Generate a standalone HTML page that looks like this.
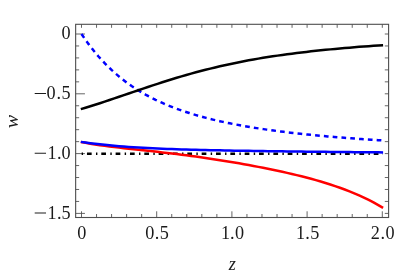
<!DOCTYPE html>
<html><head><meta charset="utf-8"><title>plot</title>
<style>html,body{margin:0;padding:0;background:#fff;}body{width:397px;height:279px;overflow:hidden;font-family:"Liberation Serif",serif;}svg{display:block;will-change:transform;}</style>
</head><body>
<svg width="397" height="279" viewBox="0 0 397 279">
<rect width="397" height="279" fill="#fff"/>
<path d="M81.50,217.5v-6.2M81.50,24.3v3.5M96.54,217.5v-3.5M96.54,24.3v3.5M111.58,217.5v-3.5M111.58,24.3v3.5M126.62,217.5v-3.5M126.62,24.3v3.5M141.66,217.5v-3.5M141.66,24.3v3.5M156.70,217.5v-6.2M156.70,24.3v3.5M171.74,217.5v-3.5M171.74,24.3v3.5M186.78,217.5v-3.5M186.78,24.3v3.5M201.82,217.5v-3.5M201.82,24.3v3.5M216.86,217.5v-3.5M216.86,24.3v3.5M231.90,217.5v-6.2M231.90,24.3v3.5M246.94,217.5v-3.5M246.94,24.3v3.5M261.98,217.5v-3.5M261.98,24.3v3.5M277.02,217.5v-3.5M277.02,24.3v3.5M292.06,217.5v-3.5M292.06,24.3v3.5M307.10,217.5v-6.2M307.10,24.3v3.5M322.14,217.5v-3.5M322.14,24.3v3.5M337.18,217.5v-3.5M337.18,24.3v3.5M352.22,217.5v-3.5M352.22,24.3v3.5M367.26,217.5v-3.5M367.26,24.3v3.5M382.30,217.5v-6.2M382.30,24.3v3.5M75.65,34.00h9.3M388.6,34.00h-3.8M75.65,45.96h3.5M388.6,45.96h-3.8M75.65,57.92h3.5M388.6,57.92h-3.8M75.65,69.88h3.5M388.6,69.88h-3.8M75.65,81.84h3.5M388.6,81.84h-3.8M75.65,93.80h9.3M388.6,93.80h-3.8M75.65,105.76h3.5M388.6,105.76h-3.8M75.65,117.72h3.5M388.6,117.72h-3.8M75.65,129.68h3.5M388.6,129.68h-3.8M75.65,141.64h3.5M388.6,141.64h-3.8M75.65,153.60h9.3M388.6,153.60h-3.8M75.65,165.56h3.5M388.6,165.56h-3.8M75.65,177.52h3.5M388.6,177.52h-3.8M75.65,189.48h3.5M388.6,189.48h-3.8M75.65,201.44h3.5M388.6,201.44h-3.8M75.65,213.40h9.3M388.6,213.40h-3.8" stroke="#555" stroke-width="0.9" fill="none"/>
<path d="M81.5,34.00 84.9,38.94 88.2,43.62 91.6,48.06 95.0,52.27 98.3,56.25 101.7,60.03 105.1,63.60 108.5,66.99 111.8,70.19 115.2,73.24 118.6,76.12 121.9,78.86 125.3,81.46 128.7,83.93 132.0,86.28 135.4,88.51 138.8,90.63 142.2,92.65 145.5,94.58 148.9,96.42 152.3,98.17 155.6,99.84 159.0,101.44 162.4,102.97 165.7,104.43 169.1,105.82 172.5,107.16 175.9,108.44 179.2,109.67 182.6,110.85 186.0,111.98 189.3,113.06 192.7,114.11 196.1,115.11 199.4,116.07 202.8,117.00 206.2,117.90 209.5,118.76 212.9,119.59 216.3,120.39 219.7,121.16 223.0,121.90 226.4,122.62 229.8,123.31 233.1,123.99 236.5,124.63 239.9,125.26 243.2,125.87 246.6,126.46 250.0,127.03 253.4,127.58 256.7,128.11 260.1,128.63 263.5,129.13 266.8,129.62 270.2,130.09 273.6,130.55 276.9,131.00 280.3,131.43 283.7,131.85 287.0,132.26 290.4,132.66 293.8,133.05 297.2,133.43 300.5,133.79 303.9,134.15 307.3,134.50 310.6,134.84 314.0,135.17 317.4,135.49 320.7,135.80 324.1,136.11 327.5,136.41 330.9,136.70 334.2,136.98 337.6,137.26 341.0,137.53 344.3,137.80 347.7,138.06 351.1,138.31 354.4,138.56 357.8,138.80 361.2,139.03 364.6,139.26 367.9,139.49 371.3,139.71 374.7,139.93 378.0,140.14 381.4,140.34" stroke="#0000ff" stroke-width="2.5" fill="none" stroke-dasharray="4.7 4.12" stroke-linejoin="round"/>
<path d="M80.8,109.13 85.5,107.73 90.3,106.28 95.1,104.78 99.9,103.24 104.7,101.66 109.5,100.06 114.3,98.44 119.1,96.80 123.9,95.16 128.7,93.51 133.5,91.87 138.3,90.23 143.1,88.60 147.9,86.99 152.7,85.40 157.5,83.83 162.3,82.28 167.1,80.76 171.9,79.27 176.7,77.81 181.5,76.39 186.3,74.99 191.1,73.64 195.9,72.32 200.7,71.04 205.5,69.80 210.3,68.60 215.1,67.43 219.9,66.30 224.7,65.22 229.5,64.17 234.3,63.16 239.1,62.18 243.9,61.24 248.7,60.34 253.5,59.47 258.3,58.64 263.1,57.84 267.9,57.07 272.7,56.33 277.5,55.62 282.3,54.93 287.1,54.28 291.9,53.65 296.7,53.04 301.5,52.46 306.3,51.89 311.1,51.35 315.9,50.83 320.7,50.33 325.5,49.84 330.3,49.37 335.1,48.91 339.9,48.48 344.7,48.05 349.5,47.64 354.3,47.24 359.1,46.86 363.9,46.49 368.7,46.14 373.5,45.80 378.3,45.48 383.1,45.17" stroke="#000" stroke-width="2.5" fill="none" stroke-linejoin="round"/>
<path d="M81.65,153.75H383" stroke="#000" stroke-width="2.5" fill="none" stroke-dasharray="1.4 3.9 4.7 4.34"/>
<path d="M80.8,141.93 85.5,142.83 90.3,143.66 95.1,144.43 99.9,145.14 104.7,145.81 109.5,146.44 114.3,147.04 119.1,147.61 123.9,148.17 128.7,148.70 133.5,149.23 138.3,149.76 143.1,150.28 147.9,150.80 152.7,151.33 157.5,151.86 162.3,152.40 167.1,152.96 171.9,153.53 176.7,154.11 181.5,154.71 186.3,155.32 191.1,155.95 195.9,156.60 200.7,157.27 205.5,157.96 210.3,158.67 215.1,159.40 219.9,160.14 224.7,160.91 229.5,161.70 234.3,162.50 239.1,163.33 243.9,164.18 248.7,165.05 253.5,165.94 258.3,166.86 263.1,167.79 267.9,168.76 272.7,169.75 277.5,170.76 282.3,171.81 287.1,172.88 291.9,173.99 296.7,175.14 301.5,176.33 306.3,177.56 311.1,178.83 315.9,180.16 320.7,181.55 325.5,182.99 330.3,184.51 335.1,186.10 339.9,187.77 344.7,189.52 349.5,191.38 354.3,193.34 359.1,195.41 363.9,197.61 368.7,199.95 373.5,202.43 378.3,205.08 383.1,207.89" stroke="#ff0000" stroke-width="2.5" fill="none" stroke-linejoin="round"/>
<path d="M80.8,141.87 85.5,142.57 90.3,143.21 95.1,143.81 99.9,144.36 104.7,144.86 109.5,145.33 114.3,145.76 119.1,146.16 123.9,146.53 128.7,146.88 133.5,147.20 138.3,147.49 143.1,147.76 147.9,148.02 152.7,148.26 157.5,148.48 162.3,148.68 167.1,148.88 171.9,149.06 176.7,149.22 181.5,149.38 186.3,149.53 191.1,149.67 195.9,149.80 200.7,149.93 205.5,150.04 210.3,150.15 215.1,150.26 219.9,150.36 224.7,150.46 229.5,150.55 234.3,150.63 239.1,150.72 243.9,150.80 248.7,150.87 253.5,150.95 258.3,151.02 263.1,151.09 267.9,151.16 272.7,151.22 277.5,151.28 282.3,151.34 287.1,151.40 291.9,151.46 296.7,151.52 301.5,151.58 306.3,151.63 311.1,151.68 315.9,151.74 320.7,151.79 325.5,151.84 330.3,151.89 335.1,151.94 339.9,151.99 344.7,152.04 349.5,152.09 354.3,152.13 359.1,152.18 363.9,152.23 368.7,152.27 373.5,152.32 378.3,152.37 383.1,152.41" stroke="#0000ff" stroke-width="2.5" fill="none" stroke-linejoin="round"/>
<rect x="75.65" y="24.3" width="312.95" height="193.20" fill="none" stroke="#4d4d4d" stroke-width="1.1"/>
<text x="61.6" y="39.40" font-family="Liberation Serif, serif" font-size="18.2" fill="#1a1a1a">0</text>
<text transform="matrix(1.335,0.0008,0,1,33.5,99.39)" font-family="Liberation Serif, serif" font-size="18.2" fill="#1a1a1a">−</text><text x="46.5 56.45 61.5" y="99.30" font-family="Liberation Serif, serif" font-size="18.2" fill="#1a1a1a">0.5</text>
<text transform="matrix(1.335,0.0008,0,1,33.5,159.19)" font-family="Liberation Serif, serif" font-size="18.2" fill="#1a1a1a">−</text><text x="47.6 56.9 61.5" y="159.10" font-family="Liberation Serif, serif" font-size="18.2" fill="#1a1a1a">1.0</text>
<text transform="matrix(1.335,0.0008,0,1,33.5,218.99)" font-family="Liberation Serif, serif" font-size="18.2" fill="#1a1a1a">−</text><text x="47.6 56.9 61.5" y="218.90" font-family="Liberation Serif, serif" font-size="18.2" fill="#1a1a1a">1.5</text>
<text x="77.30" y="239.2" font-family="Liberation Serif, serif" font-size="18.2" fill="#1a1a1a">0</text>
<text x="145.20 154.78 159.80" y="239.2" font-family="Liberation Serif, serif" font-size="18.2" fill="#1a1a1a">0.5</text>
<text x="220.90 229.98 235.00" y="239.2" font-family="Liberation Serif, serif" font-size="18.2" fill="#1a1a1a">1.0</text>
<text x="296.10 305.18 310.20" y="239.2" font-family="Liberation Serif, serif" font-size="18.2" fill="#1a1a1a">1.5</text>
<text x="370.80 380.38 385.40" y="239.2" font-family="Liberation Serif, serif" font-size="18.2" fill="#1a1a1a">2.0</text>
<text x="232.3" y="269.5" text-anchor="middle" font-style="italic" font-family="Liberation Serif, serif" font-size="18.2" fill="#1a1a1a">z</text>
<text transform="translate(17.8,121.7) rotate(-90) scale(1.1,1)" text-anchor="middle" font-style="italic" font-family="Liberation Serif, serif" font-size="18.2" fill="#1a1a1a">w</text>
</svg>
</body></html>
